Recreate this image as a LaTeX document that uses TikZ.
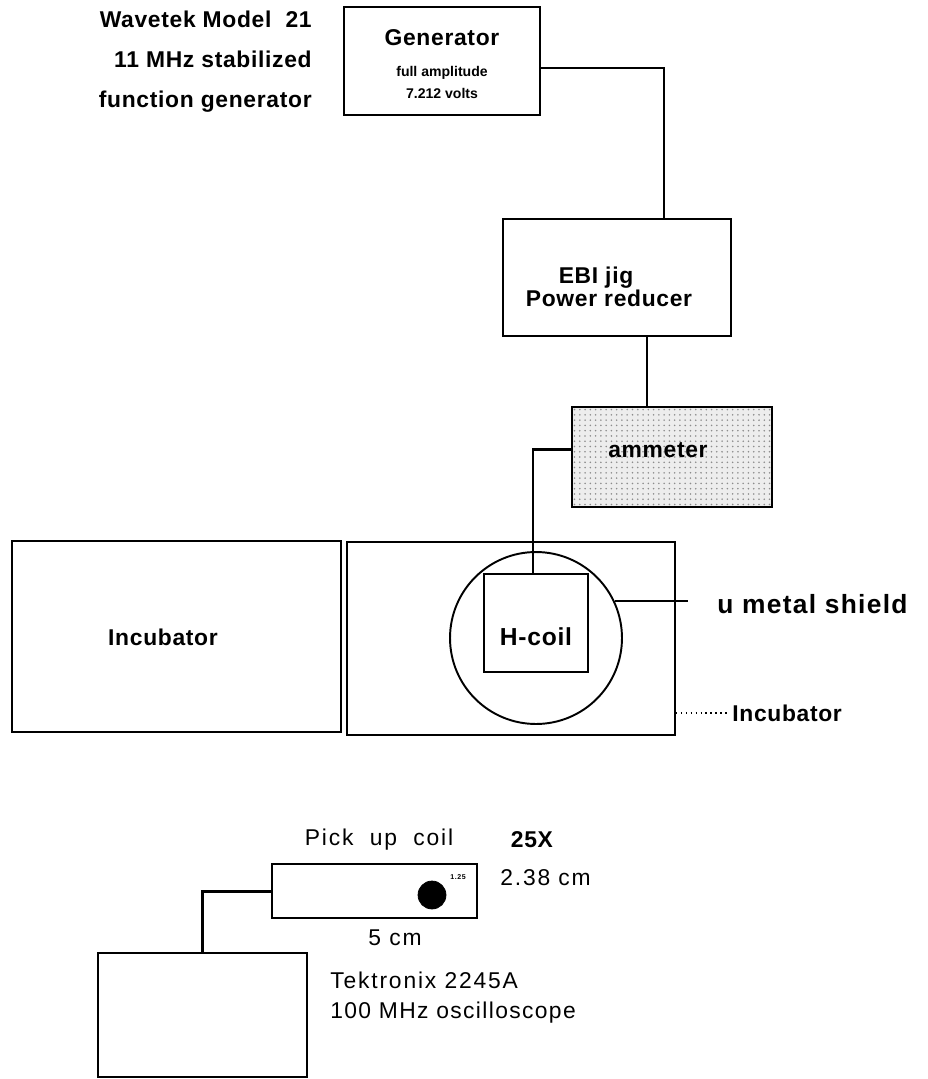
\documentclass[tikz,border=0pt]{standalone}
\usepackage{fontspec}
\setmainfont{Liberation Sans}[LetterSpace=8]
\usetikzlibrary{calc,positioning,patterns}
\tikzset{
    unit box/.style={
        draw,
        line width=1.1pt,
        inner sep=0pt
    },
    heavy/.style={
        font=\fontsize{13}{15}\selectfont\bfseries\addfontfeatures{LetterSpace=3},
        inner sep=0pt
    },
    plain/.style={
        font=\fontsize{13}{15}\selectfont,
        inner sep=0pt
    },
    tiny text/.style={
        font=\fontsize{8}{9}\selectfont\bfseries\addfontfeatures{LetterSpace=0},
        inner sep=0pt
    },
    wire/.style={
        line width=1.1pt
    },
    heavy wire/.style={
        line width=1.7pt
    }
}

\begin{document}
\begin{tikzpicture}[x=0.02cm, y=-0.02cm]
\useasboundingbox (0,0) rectangle (927,1079);
% generator
\node[unit box, minimum width=3.92cm, minimum height=2.16cm] (gen) at (442,61) {};
\node[heavy] (gentitle) at (442,38) {Generator};
\node[tiny text] (genamp) at (442,73) {full amplitude};
\node[tiny text] (genvolt) at (442,93) {7.212 volts};
\node[heavy, align=right, anchor=east, font=\fontsize{13}{22.7}\selectfont\bfseries\addfontfeatures{LetterSpace=3}]
    (gendesc) at (312,62) {Wavetek Model\ \ 21\\11 MHz stabilized\\function generator};
% power reducer
\node[unit box, minimum width=4.56cm, minimum height=2.34cm] (ebi) at (617,277.5) {};
\node[heavy] (ebijig) at (596,278) {EBI jig};
\node[heavy] (ebipow) at (609,298) {Power reducer};
% ammeter
\node[unit box, fill=black!7, postaction={pattern=dots, pattern color=black!45},
    minimum width=4cm, minimum height=2cm] (amm) at (672,457) {};
\node[heavy] (ammtext) at (658,450) {ammeter};
% incubators
\node[unit box, minimum width=6.58cm, minimum height=3.82cm] (incL) at (176.5,636.5) {};
\node[heavy] (incLtext) at (163,637) {Incubator};
\node[unit box, minimum width=6.56cm, minimum height=3.86cm] (incR) at (511,638.5) {};
% shield and coil
\node[draw, circle, line width=1.1pt, minimum size=3.44cm, inner sep=0pt] (shield) at (536,638) {};
\node[unit box, minimum width=2.08cm, minimum height=1.96cm] (hcoil) at (536,623) {};
\node[heavy, font=\fontsize{14}{16}\selectfont\bfseries\addfontfeatures{LetterSpace=3}] (hcoiltext) at (536,637) {H-coil};
\coordinate (shieldend) at (688,604);
\node[heavy, anchor=west, font=\fontsize{15}{17}\selectfont\bfseries\addfontfeatures{LetterSpace=5}] (shieldtext) at (717,604) {u metal shield};
\coordinate (incend) at (730,713);
\node[heavy, anchor=west] (incRtext) at (732,713) {Incubator};
% pick up coil
\node[unit box, line width=0.9pt, minimum width=4.1cm, minimum height=1.08cm] (pick) at (374.5,891) {};
\node[draw, circle, fill, minimum size=0.56cm, inner sep=0pt] (pickdot) at (432,895) {};
\node[font=\fontsize{4}{5}\selectfont\bfseries, inner sep=0pt] (pickdia) at (458,877) {1.25};
\node[plain] (picktext) at (379,840) {Pick\ \ up\ \ coil};
\node[heavy] (pickturns) at (532,840) {25X};
\node[plain, anchor=west] (pickh) at (500,878) {2.38\ cm};
\node[plain] (pickw) at (395,938) {5\ cm};
% oscilloscope
\node[unit box, line width=0.9pt, minimum width=4.18cm, minimum height=2.48cm] (osc) at (202.5,1015) {};
\node[plain, anchor=west] (osctype) at (330,980) {Tektronix 2245A};
\node[plain, anchor=west, font=\fontsize{13}{15}\selectfont\addfontfeatures{LetterSpace=6}] (oscbw) at (330,1013) {100 MHz oscilloscope};
% wiring
\draw[wire] ([yshift=-0.14cm]gen.east) -| ([xshift=0.94cm]ebi.north);
\draw[wire] ([xshift=0.6cm]ebi.south) -- ([xshift=0.6cm]ebi.south |- amm.north);
\draw[heavy wire] ([yshift=0.16cm]amm.west) -| ([xshift=-0.06cm]hcoil.north);
\draw[wire] (shield.25) -- (shield.25 -| shieldend);
\draw[dotted, line width=0.8pt] (incR.east |- incend) -- (incend);
\draw[heavy wire] (pick.west) -| (osc.north);
\end{tikzpicture}
\end{document}
